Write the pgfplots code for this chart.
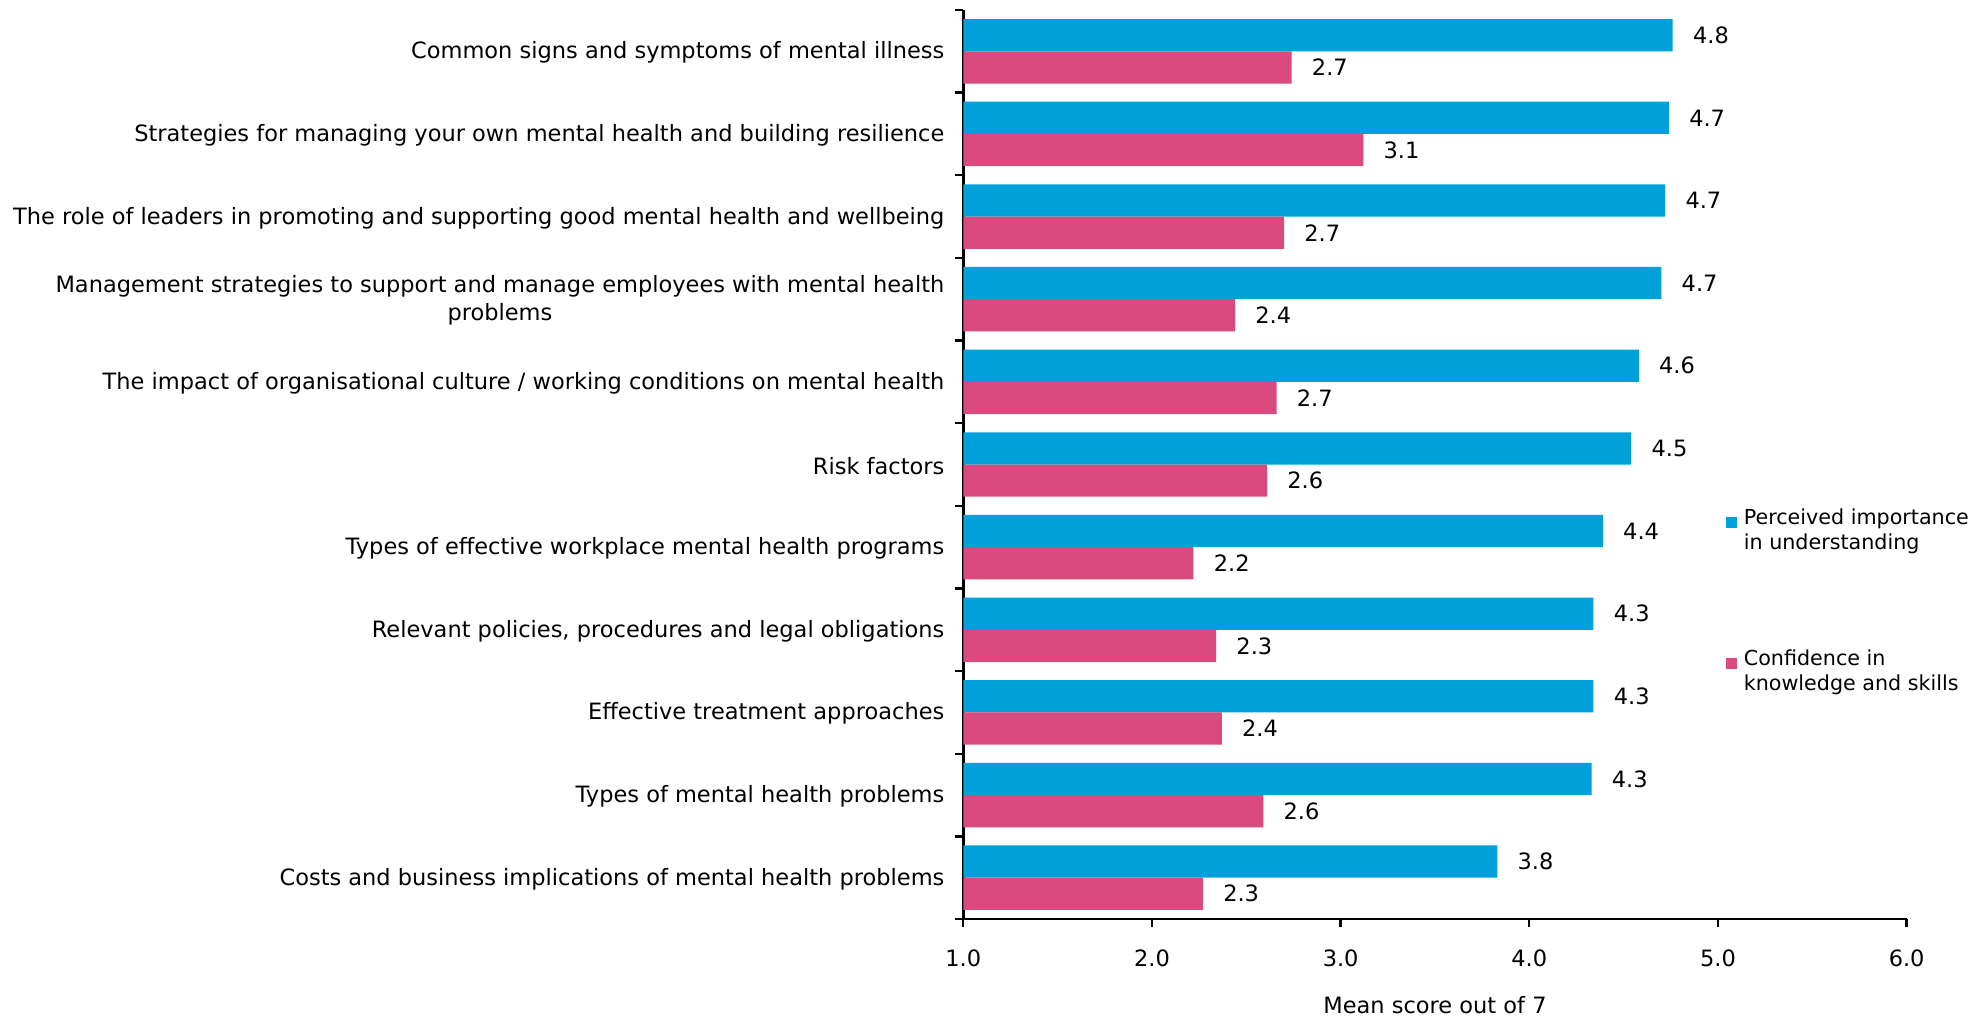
\documentclass[border=0pt]{standalone}
\usepackage{fontspec}
\setmainfont{DejaVu Sans}
\usepackage{pgfplots}
\pgfplotsset{compat=1.18}
\definecolor{cblue}{RGB}{0,160,218}
\definecolor{cpink}{RGB}{219,74,126}
\newcommand\lf{\fontsize{6.75}{8.3}\selectfont}
\newcommand\legf{\fontsize{6.2}{7.6}\selectfont}
\begin{document}
\begin{tikzpicture}
\useasboundingbox (-289.0pt,-29.7pt) rectangle (307.4pt,275.7pt);
\begin{axis}[
  at={(0,0)}, anchor=south west,
  scale only axis, width=283pt, height=272.7pt,
  xbar, xmin=1, xmax=6, ymin=-0.5, ymax=10.5,
  bar width=0.39,
  axis x line*=bottom, axis y line*=left,
  axis line style={line width=0.8pt},
  tick style={line width=0.7pt, black},
  tick align=outside, major tick length=2.4pt,
  /pgf/number format/assume math mode=true,
  /pgf/number format/.cd, fixed, fixed zerofill, precision=1, /pgfplots/.cd,
  xtick={1,2,3,4,5,6},
  xticklabel style={font=\lf, inner sep=0pt, yshift=-6.6pt},
  ytick={-0.5,0.5,...,10.5}, yticklabels={},
  extra y ticks={0,1,2,3,4,5,6,7,8,9,10},
  extra y tick labels={
    Costs and business implications of mental health problems,
    Types of mental health problems,
    Effective treatment approaches,
    {Relevant policies, procedures and legal obligations},
    Types of effective workplace mental health programs,
    Risk factors,
    The impact of organisational culture / working conditions on mental health,
    {Management strategies to support and manage employees with mental health\\problems},
    The role of leaders in promoting and supporting good mental health and wellbeing,
    Strategies for managing your own mental health and building resilience,
    Common signs and symptoms of mental illness},
  extra y tick style={major tick length=0pt, yticklabel style={font=\lf, align=center, inner sep=0pt, xshift=-5.5pt, yshift=-0.4pt}},
  xlabel={Mean score out of 7},
  xlabel style={font=\lf, inner sep=0pt, at={(axis description cs:0.5,0)}, anchor=center, yshift=-25.8pt},
  nodes near coords,
  every node near coord/.append style={font=\lf, anchor=west, inner sep=0pt, xshift=5.9pt, black},
  legend cell align=left,
  legend style={at={(rel axis cs:0.808,0.456)}, anchor=north west, draw=none, fill=none,
    font=\legf, row sep=26.5pt, inner sep=0pt,
    nodes={align=left, inner sep=1pt},
    /tikz/every odd column/.style={column sep=1pt}},
  clip=false,
]
\addplot[fill=cblue, draw=none, bar shift=0.195,
  legend image code/.code={\fill[cblue] (0pt,1.0pt) rectangle (3.3pt,4.3pt);}]
coordinates {(3.83,0) (4.33,1) (4.34,2) (4.34,3) (4.39,4) (4.54,5) (4.58,6) (4.70,7) (4.72,8) (4.74,9) (4.76,10)};
\addlegendentry{Perceived importance\\in understanding}
\addplot[fill=cpink, draw=none, bar shift=-0.195,
  legend image code/.code={\fill[cpink] (0pt,1.0pt) rectangle (3.3pt,4.3pt);}]
coordinates {(2.27,0) (2.59,1) (2.37,2) (2.34,3) (2.22,4) (2.61,5) (2.66,6) (2.44,7) (2.70,8) (3.12,9) (2.74,10)};
\addlegendentry{Confidence in\\knowledge and skills}
\end{axis}
\end{tikzpicture}
\end{document}
